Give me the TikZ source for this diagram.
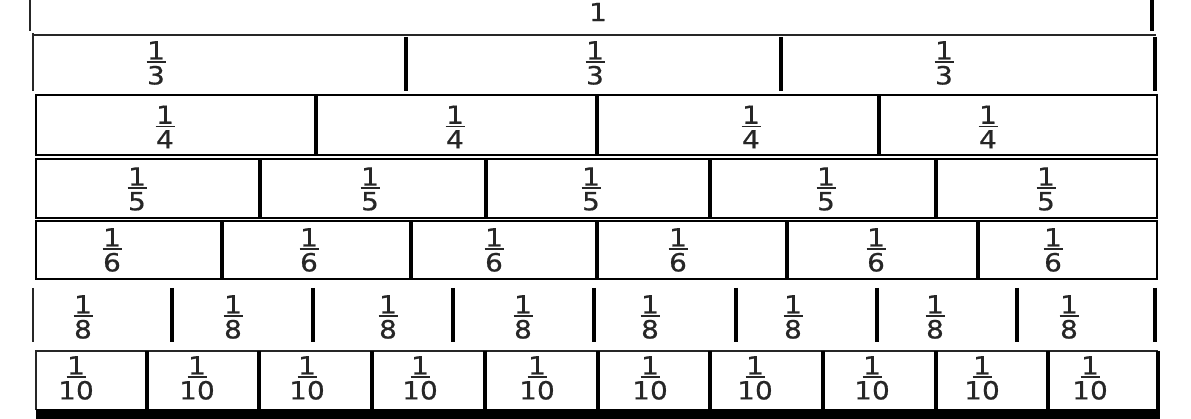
\documentclass[tikz,border=0pt]{standalone}
\usepackage{fontspec}
\usepackage{tikz}
\newfontfamily\fracfont[FakeStretch=1.12,FakeBold=0.6]{DejaVu Sans}
% stacked fraction 1 over #1
\newcommand\fr[1]{\vbox{\offinterlineskip\halign{\hfil##\hfil\cr 1\cr\noalign{\kern1.8pt}\rule{19pt}{1.8pt}\cr\noalign{\kern2.8pt}#1\cr}}}

\begin{document}
\begin{tikzpicture}[x=1pt,y=-1pt,
  thinline/.style={line width=1.8pt, draw=black!85},
  frame/.style={line width=2.6pt},
  divider/.style={line width=4.2pt},
  fraclabel/.style={font=\fracfont\fontsize{25}{25}\selectfont, inner sep=0pt, text=black!85}]
\useasboundingbox (0,0) rectangle (1191,419);

% Whole
\draw[thinline] (30,0) -- (30,31);
\draw[divider] (1152,0) -- (1152,31);
\node[fraclabel] (whole) at (598,12) {1};

% Thirds
\draw[thinline] (33,35) -- (1156,35);
\draw[thinline] (33,33) -- (33,91);
\foreach \x in {406,781,1155} \draw[divider] (\x,37) -- (\x,91);
\foreach \x [count=\i] in {156,595,944} \node[fraclabel] (third\i) at (\x,63) {\fr{3}};

% Quarters
\draw[frame] (36,95) rectangle (1157,155);
\foreach \x in {316,597,879} \draw[divider] (\x,95) -- (\x,155);
\foreach \x [count=\i] in {165,455,751,988} \node[fraclabel] (quarter\i) at (\x,127) {\fr{4}};

% Fifths
\draw[frame] (36,159) rectangle (1157,218);
\foreach \x in {260,486,710,936} \draw[divider] (\x,159) -- (\x,218);
\foreach \x [count=\i] in {137,370,591,826,1046} \node[fraclabel] (fifth\i) at (\x,189) {\fr{5}};

% Sixths
\draw[frame] (36,221) rectangle (1157,279);
\foreach \x in {222,411,597,787,978} \draw[divider] (\x,221) -- (\x,279);
\foreach \x [count=\i] in {112,309,494,678,876,1053} \node[fraclabel] (sixth\i) at (\x,250) {\fr{6}};

% Eighths
\draw[thinline] (33,288) -- (33,342);
\foreach \x in {172,313,453,594,736,877,1017,1155} \draw[divider] (\x,288) -- (\x,342);
\foreach \x [count=\i] in {83,233,388,523,650,793,935,1069} \node[fraclabel] (eighth\i) at (\x,317) {\fr{8}};

% Tenths
\draw[thinline] (36,410) -- (36,351) -- (1158,351);
\foreach \x in {147,259,372,485,598,710,823,936,1048,1158} \draw[divider] (\x,351) -- (\x,410);
\fill (36,409) rectangle (1160,419);
\foreach \x [count=\i] in {76,197,307,420,537,650,755,872,982,1090} \node[fraclabel] (tenth\i) at (\x,378) {\fr{10}};
\end{tikzpicture}
\end{document}
